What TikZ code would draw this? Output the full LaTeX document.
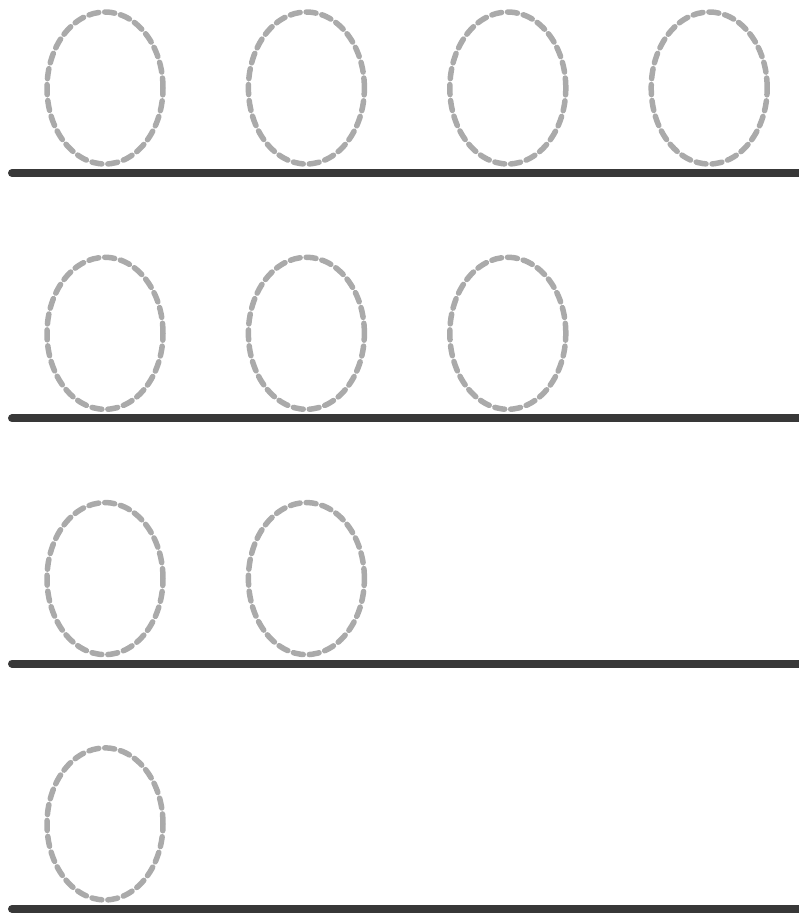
\documentclass[tikz,border=0pt]{standalone}
\usetikzlibrary{shapes.geometric}
\definecolor{ringgray}{HTML}{AAAAAA}
\definecolor{shelfdark}{HTML}{383838}
\tikzset{
  ring/.style={ellipse, draw=ringgray, line width=5.5pt, minimum width=116pt, minimum height=152pt, inner sep=0pt, dash pattern=on 10pt off 6pt, line cap=round, line join=round},
  shelf/.style={draw=shelfdark, line width=8pt, line cap=round}
}
\begin{document}
\begin{tikzpicture}[x=1pt,y=-1pt]
\useasboundingbox (0,0) rectangle (799,914);
\foreach \r/\n in {1/4,2/3,3/2,4/1}{
  \pgfmathsetmacro{\ly}{173+(\r-1)*245.3}
  \pgfmathsetmacro{\cy}{\ly-85}
  \coordinate (L\r a) at (12,\ly);
  \coordinate (L\r b) at (810,\ly);
  \draw[shelf] (L\r a) -- (L\r b);
  \foreach \c in {1,...,\n}{
    \pgfmathsetmacro{\cx}{105+(\c-1)*201.4}
    \node[ring] (E\r\c) at (\cx,\cy) {};
  }
}
\end{tikzpicture}
\end{document}
